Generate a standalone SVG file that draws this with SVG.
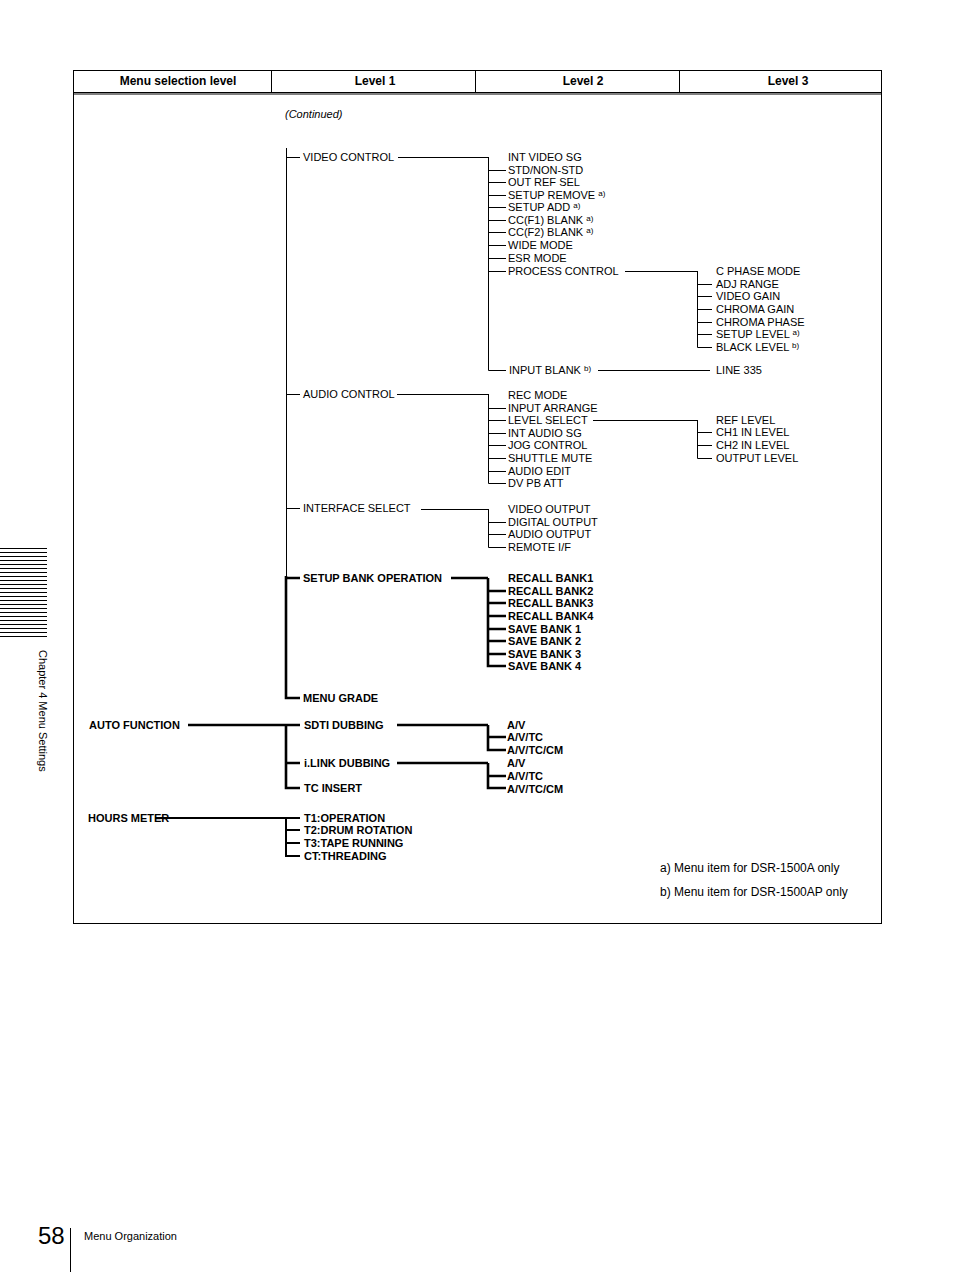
<svg xmlns="http://www.w3.org/2000/svg" width="954" height="1274" viewBox="0 0 954 1274">
<style>
text{font-family:"Liberation Sans",Arial,sans-serif;font-size:11px;fill:#000}
.b{font-weight:bold}
.h{font-weight:bold;font-size:12px;text-anchor:middle}
.s{font-size:8px}
line,path{stroke:#000;fill:none;stroke-width:1}
.t line,.t path,path.t,line.t{stroke-width:2.6}
</style>
<rect width="954" height="1274" fill="#fff"/>
<g id="table">
<rect x="73.5" y="70.5" width="808" height="853" fill="none" stroke="#000"/>
<line x1="73" y1="92.5" x2="881" y2="92.5"/><line x1="73" y1="94" x2="881" y2="94"/>
<line x1="271.5" y1="70" x2="271.5" y2="93"/><line x1="475.5" y1="70" x2="475.5" y2="93"/><line x1="679.5" y1="70" x2="679.5" y2="93"/>
<text class="h" x="178" y="85">Menu selection level</text>
<text class="h" x="375" y="85">Level 1</text>
<text class="h" x="583" y="85">Level 2</text>
<text class="h" x="788" y="85">Level 3</text>
<text x="285" y="118" font-style="italic">(Continued)</text>
</g>
<g id="connectors">
<path d="M286.5 148V577"/>
<path class="t" d="M286 576V698H300"/>
<path d="M286 157.5H300M398 157.5H488M488.5 157V370.5H506M488 170.5H506M488 182.5H506M488 195.5H506M488 207.5H506M488 220.5H506M488 232.5H506M488 245.5H506M488 258.5H506M488 271.5H506"/>
<path d="M625 271.5H697M697.5 271V347.5H712M697 284.5H712M697 296.5H712M697 309.5H712M697 322.5H712M697 334.5H712"/>
<path d="M598 370.5H710"/>
<path d="M286 394.5H300M397 394.5H488M488.5 394V483.5H506M488 408.5H506M488 420.5H506M488 433.5H506M488 445.5H506M488 458.5H506M488 471.5H506"/>
<path d="M593 420.5H697M697.5 420V458.5H712M697 432.5H712M697 445.5H712"/>
<path d="M286 508.5H300M421 509.5H488M488.5 509V547.5H506M488 522.5H506M488 534.5H506"/>
<g class="t">
<path d="M286 578H300M451 578H488M488 578V666H506M488 591H506M488 603H506M488 616H506M488 629H506M488 641H506M488 654H506"/>
<path d="M188 725H300M286 725V788H300M286 763H300M397 725H488M488 725V750H506M488 737H506M397 763H488M488 763V788H506M488 776H506"/>
<path d="M155 818H300M286 818V856H300M286 830H300M286 843H300" style="stroke-width:2"/>
</g>
</g>
<g id="level1">
<text x="303" y="161">VIDEO CONTROL</text>
<text x="303" y="398">AUDIO CONTROL</text>
<text x="303" y="512">INTERFACE SELECT</text>
<text class="b" x="303" y="582">SETUP BANK OPERATION</text>
<text class="b" x="303" y="702">MENU GRADE</text>
<text class="b" x="89" y="729">AUTO FUNCTION</text>
<text class="b" x="304" y="729">SDTI DUBBING</text>
<text class="b" x="304" y="767">i.LINK DUBBING</text>
<text class="b" x="304" y="792">TC INSERT</text>
<text class="b" x="88" y="822">HOURS METER</text>
<text class="b" x="304" y="822">T1:OPERATION</text>
<text class="b" x="304" y="834">T2:DRUM ROTATION</text>
<text class="b" x="304" y="847">T3:TAPE RUNNING</text>
<text class="b" x="304" y="860">CT:THREADING</text>
</g>
<g id="level2">
<text x="508" y="161">INT VIDEO SG</text>
<text x="508" y="174">STD/NON-STD</text>
<text x="508" y="186">OUT REF SEL</text>
<text x="508" y="199">SETUP REMOVE <tspan class="s" dy="-3">a)</tspan></text>
<text x="508" y="211">SETUP ADD <tspan class="s" dy="-3">a)</tspan></text>
<text x="508" y="224">CC(F1) BLANK <tspan class="s" dy="-3">a)</tspan></text>
<text x="508" y="236">CC(F2) BLANK <tspan class="s" dy="-3">a)</tspan></text>
<text x="508" y="249">WIDE MODE</text>
<text x="508" y="262">ESR MODE</text>
<text x="508" y="275">PROCESS CONTROL</text>
<text x="509" y="374">INPUT BLANK <tspan class="s" dy="-3">b)</tspan></text>
<text x="508" y="399">REC MODE</text>
<text x="508" y="412">INPUT ARRANGE</text>
<text x="508" y="424">LEVEL SELECT</text>
<text x="508" y="437">INT AUDIO SG</text>
<text x="508" y="449">JOG CONTROL</text>
<text x="508" y="462">SHUTTLE MUTE</text>
<text x="508" y="475">AUDIO EDIT</text>
<text x="508" y="487">DV PB ATT</text>
<text x="508" y="513">VIDEO OUTPUT</text>
<text x="508" y="526">DIGITAL OUTPUT</text>
<text x="508" y="538">AUDIO OUTPUT</text>
<text x="508" y="551">REMOTE I/F</text>
<g class="b">
<text class="b" x="508" y="582">RECALL BANK1</text>
<text class="b" x="508" y="595">RECALL BANK2</text>
<text class="b" x="508" y="607">RECALL BANK3</text>
<text class="b" x="508" y="620">RECALL BANK4</text>
<text class="b" x="508" y="633">SAVE BANK 1</text>
<text class="b" x="508" y="645">SAVE BANK 2</text>
<text class="b" x="508" y="658">SAVE BANK 3</text>
<text class="b" x="508" y="670">SAVE BANK 4</text>
<text class="b" x="507" y="729">A/V</text>
<text class="b" x="507" y="741">A/V/TC</text>
<text class="b" x="507" y="754">A/V/TC/CM</text>
<text class="b" x="507" y="767">A/V</text>
<text class="b" x="507" y="780">A/V/TC</text>
<text class="b" x="507" y="793">A/V/TC/CM</text>
</g>
</g>
<g id="level3">
<text x="716" y="275">C PHASE MODE</text>
<text x="716" y="288">ADJ RANGE</text>
<text x="716" y="300">VIDEO GAIN</text>
<text x="716" y="313">CHROMA GAIN</text>
<text x="716" y="326">CHROMA PHASE</text>
<text x="716" y="338">SETUP LEVEL <tspan class="s" dy="-3">a)</tspan></text>
<text x="716" y="351">BLACK LEVEL <tspan class="s" dy="-3">b)</tspan></text>
<text x="716" y="374">LINE 335</text>
<text x="716" y="424">REF LEVEL</text>
<text x="716" y="436">CH1 IN LEVEL</text>
<text x="716" y="449">CH2 IN LEVEL</text>
<text x="716" y="462">OUTPUT LEVEL</text>
</g>
<g id="notes">
<text x="660" y="872" style="font-size:12px">a)  Menu item for DSR-1500A only</text>
<text x="660" y="896" style="font-size:12px">b)  Menu item for DSR-1500AP only</text>
</g>
<g id="page">
<path d="M0 548.5H47M0 552.5H47M0 556.5H47M0 560.5H47M0 564.5H47M0 568.5H47M0 572.5H47M0 576.5H47M0 580.5H47M0 584.5H47M0 588.5H47M0 592.5H47M0 596.5H47M0 600.5H47M0 604.5H47M0 608.5H47M0 612.5H47M0 616.5H47M0 620.5H47M0 624.5H47M0 628.5H47M0 632.5H47M0 636.5H47"/>
<text transform="translate(39 650) rotate(90)" style="font-size:11px">Chapter 4  Menu Settings</text>
<text x="38" y="1244" style="font-size:24px">58</text>
<line x1="70.5" y1="1228" x2="70.5" y2="1272"/>
<text x="84" y="1240" style="font-size:11px">Menu Organization</text>
</g>
</svg>
